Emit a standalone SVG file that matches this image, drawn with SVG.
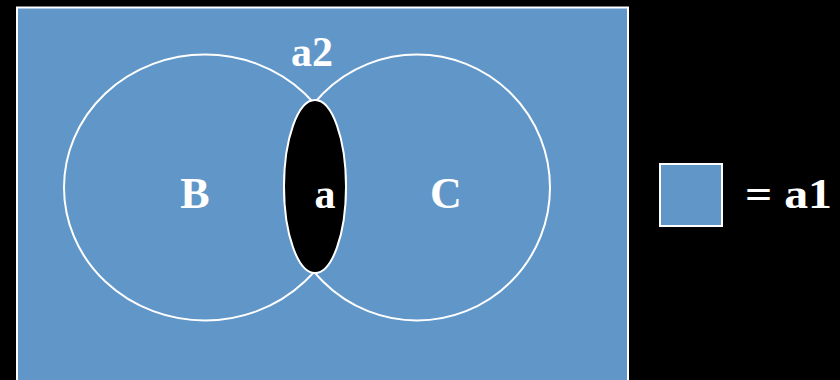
<svg xmlns="http://www.w3.org/2000/svg" width="840" height="380" viewBox="0 0 840 380">
<style>
.lbl{font-family:"Liberation Serif","Times New Roman",serif;font-weight:bold;fill:#ffffff;text-anchor:middle}
.set{fill:none;stroke:#ffffff;stroke-width:2}
</style>
<rect x="0" y="0" width="840" height="380" fill="#000000"/>
<g id="universe">
<rect x="17" y="7.5" width="611" height="380" fill="#6097c8" stroke="#ffffff" stroke-width="2"/>
<text class="lbl" x="312" y="66" font-size="42">a2</text>
</g>
<g id="setB">
<ellipse class="set" cx="205" cy="187.5" rx="141" ry="133"/>
<text class="lbl" x="195" y="208" font-size="44">B</text>
</g>
<g id="setC">
<ellipse class="set" cx="417" cy="187.5" rx="133" ry="133"/>
<text class="lbl" x="446" y="208" font-size="44">C</text>
</g>
<g id="intersection">
<ellipse cx="315" cy="186.5" rx="31" ry="86.5" fill="#000000" stroke="#ffffff" stroke-width="2"/>
<text class="lbl" x="325" y="208" font-size="42">a</text>
</g>
<g id="legend">
<rect x="660" y="164" width="62" height="62" fill="#6097c8" stroke="#ffffff" stroke-width="2"/>
<text class="lbl" x="745" y="208" font-size="42" style="text-anchor:start" textLength="87" lengthAdjust="spacingAndGlyphs">= a1</text>
</g>
</svg>
